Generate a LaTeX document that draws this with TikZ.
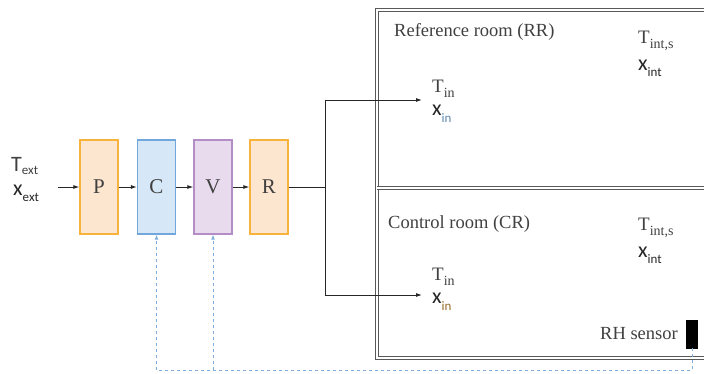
\documentclass[tikz,border=0pt]{standalone}
\usepackage{fontspec}
\setmainfont{Liberation Serif}
\newfontfamily\carl{Carlito}
\usetikzlibrary{arrows.meta}
\definecolor{txt}{HTML}{404040}
\definecolor{orfill}{HTML}{FDE6CF}
\definecolor{ordraw}{HTML}{F7B33B}
\definecolor{blfill}{HTML}{D6E8F7}
\definecolor{bldraw}{HTML}{72A7DB}
\definecolor{pufill}{HTML}{E8DBEE}
\definecolor{pudraw}{HTML}{B48DC6}
\definecolor{dashblue}{HTML}{7FAEDD}
\tikzset{
  unit/.style={draw, line width=1.3pt, minimum width=38pt, minimum height=94pt, inner sep=0pt,
    font=\fontsize{21}{21}\selectfont, text=txt},
  flow/.style={draw=black!85, line width=0.9pt, -{Latex[length=6pt,width=4pt]}},
  ctrl/.style={draw=dashblue, line width=0.9pt, dash pattern=on 3pt off 3pt},
  lab/.style={font=\fontsize{18.5}{18.5}\selectfont, text=txt, inner sep=0pt, anchor=west},
  tsym/.style={font=\fontsize{19}{19}\selectfont, text=txt, inner sep=0pt, anchor=west},
  xsym/.style={font=\carl\fontsize{22}{22}\selectfont, text=black!85, inner sep=0pt, anchor=west},
  wall/.style={draw=black!65, line width=0.8pt, double=white, double distance=1.6pt}
}
\begin{document}
\begin{tikzpicture}[x=1pt,y=-1pt]
\useasboundingbox (0,0) rectangle (704,373);
% inputs
\node[xsym, text=txt] (text) at (11,166) {T\raisebox{-0.35ex}{\fontsize{13}{13}\selectfont ext}};
\node[xsym] (xext) at (13,193) {x\raisebox{-0.6ex}{\fontsize{13}{13}\selectfont ext}};
\coordinate (inl) at (58,187);
% units
\node[unit, draw=ordraw, fill=orfill] (P) at (99,187) {P};
\node[unit, draw=bldraw, fill=blfill] (C) at (156.5,187) {C};
\node[unit, draw=pudraw, fill=pufill] (V) at (213,187) {V};
\node[unit, draw=ordraw, fill=orfill] (R) at (269,187) {R};
\draw[flow] (inl) -- (P.west);
\draw[flow] (P.east) -- (C.west);
\draw[flow] (C.east) -- (V.west);
\draw[flow] (V.east) -- (R.west);
% rooms
\draw[wall] (712,10) -- (377,10) -- (377,358) -- (712,358);
\draw[wall] (377,188) -- (712,188);
\node[lab] (rr) at (394,32) {Reference room (RR)};
\node[lab] (cr) at (388,224) {Control room (CR)};
% top room symbols
\node[tsym] (tint1) at (638,41) {T\raisebox{-0.6ex}{\fontsize{14}{14}\selectfont int,s}};
\node[xsym] (xint1) at (638,68) {x\raisebox{-0.6ex}{\fontsize{13}{13}\selectfont int}};
\node[tsym] (tin1) at (432,89) {T\raisebox{-0.6ex}{\fontsize{14}{14}\selectfont in}};
\node[xsym] (xin1) at (432,114) {x\raisebox{-0.7ex}{\fontsize{13}{13}\selectfont\color{bldraw!80!black} in}};
% bottom room symbols
\node[tsym] (tint2) at (638,228) {T\raisebox{-0.6ex}{\fontsize{14}{14}\selectfont int,s}};
\node[xsym] (xint2) at (638,255) {x\raisebox{-0.6ex}{\fontsize{13}{13}\selectfont int}};
\node[tsym] (tin2) at (432,277) {T\raisebox{-0.6ex}{\fontsize{14}{14}\selectfont in}};
\node[xsym] (xin2) at (432,302) {x\raisebox{-0.7ex}{\fontsize{13}{13}\selectfont\color{ordraw!60!black} in}};
% supply lines
\coordinate (split) at (325,187);
\coordinate (arr1) at (422,100);
\coordinate (arr2) at (422,295);
\draw[draw=black!85, line width=0.9pt] (R.east) -- (split);
\draw[flow] (split) |- (arr1);
\draw[flow] (split) |- (arr2);
% sensor
\node[lab] (rh) at (600,334) {RH sensor};
\node[draw=black, fill=black, minimum width=11pt, minimum height=28pt, inner sep=0pt] (sens) at (692,334) {};
% control lines
\coordinate (cb) at (156.5,370);
\coordinate (vb) at (213,370);
\coordinate (sb) at (692,370);
\draw[ctrl] (sens.south) -- (sb) -- (cb);
\draw[ctrl, -{Latex[length=5pt,width=4pt]}] (cb) -- (C.south);
\draw[ctrl, -{Latex[length=5pt,width=4pt]}] (vb) -- (V.south);
\end{tikzpicture}
\end{document}
